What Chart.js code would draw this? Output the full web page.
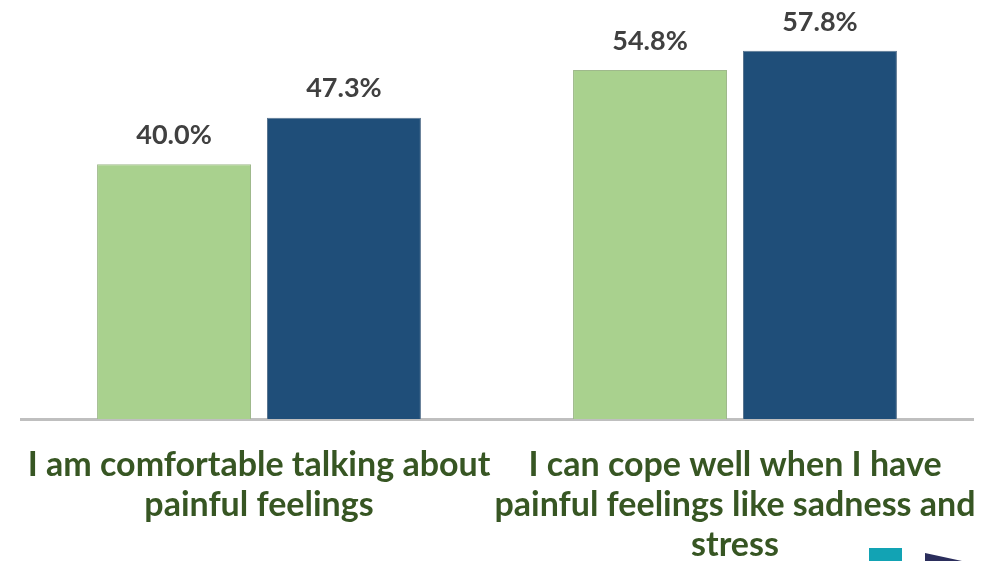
<!DOCTYPE html>
<html>
<head>
<meta charset="utf-8">
<script src="https://cdn.jsdelivr.net/npm/chart.js@4.4.1/dist/chart.umd.min.js"></script>
<style>
  html, body { margin: 0; padding: 0; background: #fff; }
  #wrap { width: 987px; height: 561px; }
</style>
</head>
<body>
<div id="wrap"><canvas id="chart" width="987" height="561"></canvas></div>
<script>
// Categories and series values (percent)
const categories = [
    ['I am comfortable talking about', 'painful feelings'],
    ['I can cope well when I have', 'painful feelings like sadness and', 'stress']
];
const seriesA = [40.0, 54.8];
const seriesB = [47.3, 57.8];

// Draw the value labels above each bar
const valueLabels = {
    id: 'valueLabels',
    afterDatasetsDraw(chart) {
        const ctx = chart.ctx;
        ctx.save();
        ctx.font = 'bold 27px Lato, "Liberation Sans", sans-serif';
        ctx.fillStyle = '#404040';
        ctx.textAlign = 'center';
        ctx.textBaseline = 'middle';
        chart.data.datasets.forEach((ds, i) => {
            chart.getDatasetMeta(i).data.forEach((bar, j) => {
                ctx.fillText(ds.data[j].toFixed(1) + '%', bar.x, bar.y - 29);
            });
        });
        ctx.restore();
    }
};

// Bits of the slide logo peeking in at the bottom right corner
const cornerLogo = {
    id: 'cornerLogo',
    afterDraw(chart) {
        const ctx = chart.ctx;
        ctx.save();
        ctx.fillStyle = '#12A3B4';
        ctx.fillRect(869, 548, 33, 13);
        ctx.fillStyle = '#2B2E5C';
        ctx.beginPath();
        ctx.moveTo(925, 553);
        ctx.lineTo(962, 561);
        ctx.lineTo(925, 561);
        ctx.closePath();
        ctx.fill();
        ctx.restore();
    }
};

new Chart(document.getElementById('chart'), {
    type: 'bar',
    data: {
        labels: categories,
        datasets: [{
            data: seriesA,
            backgroundColor: '#A9D18E',
            borderColor: '#9FB98C',
            borderWidth: 1,
            categoryPercentage: 0.714,
            barPercentage: 0.906
        }, {
            data: seriesB,
            backgroundColor: '#1F4E79',
            borderColor: '#5A7590',
            borderWidth: 1,
            categoryPercentage: 0.714,
            barPercentage: 0.906
        }]
    },
    options: {
        responsive: false,
        animation: false,
        layout: { padding: { left: 21, right: 14, top: 5, bottom: -30 } },
        plugins: { legend: { display: false }, tooltip: { enabled: false } },
        scales: {
            x: {
                grid: { display: false, drawTicks: false },
                border: { display: true, color: '#BFBFBF', width: 3 },
                // let the long labels spill past the plot edges, like the original
                afterFit(scale) {
                    scale.paddingLeft = 0;
                    scale.paddingRight = 0;
                },
                ticks: {
                    color: '#375623',
                    padding: 26,
                    maxRotation: 0,
                    autoSkip: false,
                    font: { family: 'Lato, "Liberation Sans", sans-serif', size: 34, weight: 'bold', lineHeight: '40px' }
                }
            },
            y: {
                display: false,
                min: 0,
                max: 65
            }
        }
    },
    plugins: [valueLabels, cornerLogo]
});
</script>
</body>
</html>
